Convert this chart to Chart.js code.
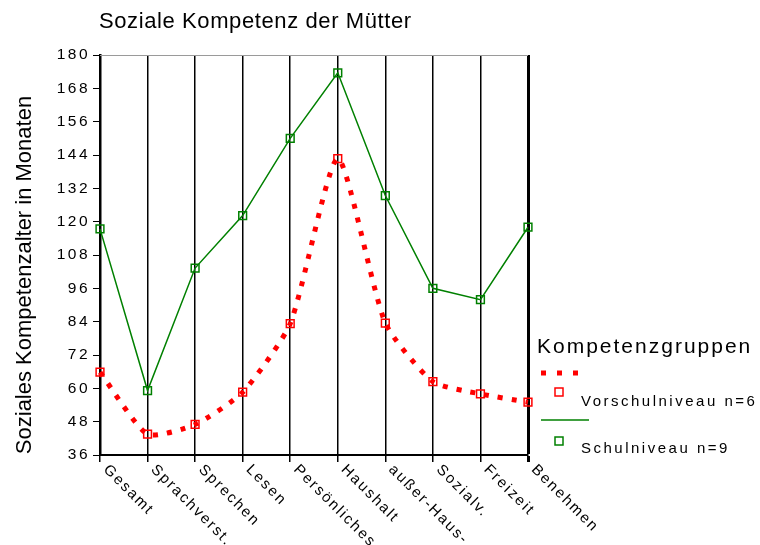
<!DOCTYPE html>
<html>
<head>
<meta charset="utf-8">
<script src="https://cdn.jsdelivr.net/npm/chart.js@4/dist/chart.umd.min.js"></script>
<style>
  html, body { margin: 0; background: #fff; }
</style>
</head>
<body>
<canvas id="chart" width="760" height="545"></canvas>
<script>
const titleText = 'Soziale Kompetenz der Mütter';
const yTitle = 'Soziales Kompetenzalter in Monaten';
const legendTitle = 'Kompetenzgruppen';

const categories = ['Gesamt', 'Sprachverst.', 'Sprechen', 'Lesen', 'Persönliches',
  'Haushalt', 'außer-Haus-', 'Sozialv.', 'Freizeit', 'Benehmen'];

const seriesLabels = ['Vorschulniveau n=6', 'Schulniveau n=9'];
const vorschul = [65.8, 43.5, 47, 58.6, 83.3, 142.7, 83.5, 62.4, 58, 55];
const schul = [117.4, 59.2, 103.3, 122.2, 150, 173.6, 129.4, 96, 91.9, 118];

const yMin = 36, yMax = 180, yStep = 12;

const RED = '#ff0000';
const GREEN = '#008000';
const FONT = '"Liberation Sans", Arial, sans-serif';

// draws title, axis title, slanted category labels and the legend
const decorations = {
  id: 'decorations',
  beforeDraw(chart) {
    chart.ctx.letterSpacing = '2.5px';
  },
  afterDraw(chart) {
    const ctx = chart.ctx;
    const area = chart.chartArea;
    const xs = chart.scales.x;

    ctx.save();
    // thin frame line on top
    ctx.strokeStyle = '#9a9a9a';
    ctx.lineWidth = 1;
    ctx.beginPath();
    ctx.moveTo(area.left, area.top + 0.5);
    ctx.lineTo(area.right, area.top + 0.5);
    ctx.stroke();

    ctx.fillStyle = '#000';
    ctx.textAlign = 'left';
    ctx.textBaseline = 'alphabetic';
    ctx.letterSpacing = '0.6px';
    ctx.font = '22px ' + FONT;
    ctx.fillText(titleText, 99, 28);

    // y title
    ctx.save();
    ctx.letterSpacing = '0px';
    ctx.translate(31, 275);
    ctx.rotate(-Math.PI / 2);
    ctx.textAlign = 'center';
    ctx.fillText(yTitle, 0, 0);
    ctx.restore();

    // category labels
    ctx.font = '15px ' + FONT;
    ctx.letterSpacing = '2px';
    ctx.textBaseline = 'top';
    categories.forEach((c, i) => {
      const x = xs.getPixelForTick(i);
      ctx.save();
      ctx.translate(x + 11, area.bottom + 7);
      ctx.rotate(Math.PI / 4);
      ctx.fillText(c, 0, 0);
      ctx.restore();
    });

    // legend
    ctx.textBaseline = 'alphabetic';
    ctx.font = '21px ' + FONT;
    ctx.letterSpacing = '2px';
    ctx.fillText(legendTitle, 537, 353);

    ctx.font = '15px ' + FONT;
    ctx.letterSpacing = '2.5px';

    ctx.strokeStyle = RED;
    ctx.lineWidth = 5;
    ctx.setLineDash([5, 11]);
    ctx.beginPath();
    ctx.moveTo(541, 373);
    ctx.lineTo(580, 373);
    ctx.stroke();
    ctx.setLineDash([]);
    ctx.lineWidth = 1.5;
    ctx.strokeRect(555, 388, 8, 8);
    ctx.fillText(seriesLabels[0], 581, 406);

    ctx.strokeStyle = GREEN;
    ctx.beginPath();
    ctx.moveTo(541, 420);
    ctx.lineTo(589, 420);
    ctx.stroke();
    ctx.strokeRect(555, 437, 8, 8);
    ctx.fillText(seriesLabels[1], 581, 453);
    ctx.restore();
    ctx.letterSpacing = '0px';
  }
};

new Chart(document.getElementById('chart'), {
  type: 'line',
  data: {
    labels: categories,
    datasets: [
      {
        label: seriesLabels[0],
        data: vorschul,
        borderColor: RED,
        borderWidth: 5,
        borderDash: [5, 9],
        borderCapStyle: 'butt',
        tension: 0.2,
        pointStyle: 'rect',
        pointRadius: 5.5,
        pointBorderWidth: 1.5,
        pointBorderColor: RED,
        pointBackgroundColor: 'rgba(0,0,0,0)',
        clip: false,
      },
      {
        label: seriesLabels[1],
        data: schul,
        borderColor: GREEN,
        borderWidth: 1.5,
        tension: 0,
        pointStyle: 'rect',
        pointRadius: 5.5,
        pointBorderWidth: 1.5,
        pointBorderColor: GREEN,
        pointBackgroundColor: 'rgba(0,0,0,0)',
        clip: false,
      },
    ],
  },
  options: {
    responsive: false,
    animation: false,
    layout: { padding: { top: 55, right: 232, bottom: 0, left: 0 } },
    plugins: {
      legend: { display: false },
      title: { display: false },
      tooltip: { enabled: false },
    },
    scales: {
      x: {
        offset: false,
        afterFit: (s) => { s.height = 90; },
        ticks: { display: false },
        grid: {
          color: '#000',
          lineWidth: (c) => (c.index === categories.length - 1 ? 3 : 1.5),
          drawTicks: true,
          tickLength: 7,
        },
        border: { display: true, color: '#000', width: 2 },
      },
      y: {
        min: yMin,
        max: yMax,
        afterFit: (s) => { s.width = 100; },
        ticks: {
          stepSize: yStep,
          color: '#000',
          padding: 3,
          font: { family: FONT, size: 15.5 },
        },
        grid: {
          drawOnChartArea: false,
          drawTicks: true,
          tickLength: 7,
          color: '#000',
        },
        border: { display: true, color: '#000', width: 2.5 },
      },
    },
  },
  plugins: [decorations],
});
</script>
</body>
</html>
